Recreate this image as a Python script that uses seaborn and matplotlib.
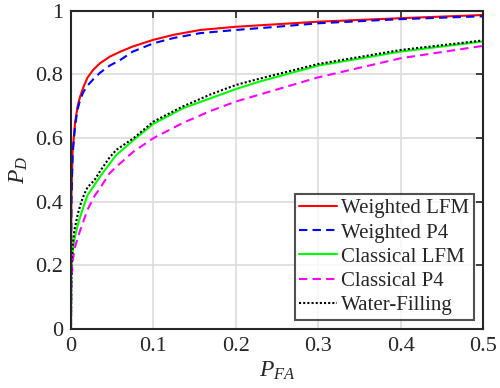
"""
Curvas ROC: P_D frente a P_FA para las distintas formas de onda
"""

import pandas as pd
import matplotlib
matplotlib.use('Agg')
import matplotlib.pyplot as plt
import seaborn as sns

# Valores
pfa_weighted = [0.0, 0.0005, 0.002, 0.005, 0.008, 0.011, 0.015, 0.02, 0.027, 0.035,
                0.047, 0.06, 0.075, 0.1, 0.125, 0.157, 0.2, 0.25, 0.3, 0.4, 0.5]
pd_weighted_lfm = [0.2, 0.42, 0.56, 0.65, 0.70, 0.73, 0.76, 0.79, 0.815, 0.835,
                   0.856, 0.872, 0.888, 0.909, 0.925, 0.94, 0.95, 0.958, 0.966, 0.977, 0.987]
pd_weighted_p4 = [0.18, 0.40, 0.55, 0.64, 0.69, 0.72, 0.745, 0.765, 0.785, 0.805,
                  0.828, 0.846, 0.872, 0.898, 0.915, 0.93, 0.94, 0.95, 0.961, 0.974, 0.983]

pfa_classical = [0.0, 0.0005, 0.002, 0.004, 0.0085, 0.0125, 0.0166, 0.02, 0.029, 0.035,
                 0.047, 0.055, 0.076, 0.1, 0.136, 0.169, 0.2, 0.229, 0.3, 0.4, 0.5]
pd_classical_lfm = [0.0, 0.2, 0.24, 0.28, 0.33, 0.364, 0.395, 0.42, 0.455, 0.478,
                    0.52, 0.547, 0.594, 0.645, 0.694, 0.725, 0.754, 0.778, 0.828, 0.872, 0.904]
pd_classical_p4 = [0.0, 0.15, 0.21, 0.25, 0.29, 0.32, 0.35, 0.375, 0.42, 0.442,
                   0.49, 0.51, 0.558, 0.60, 0.648, 0.685, 0.715, 0.737, 0.791, 0.851, 0.890]
pd_water_filling = [0.0, 0.2, 0.26, 0.31, 0.364, 0.40, 0.427, 0.445, 0.47, 0.495,
                    0.54, 0.563, 0.60, 0.652, 0.70, 0.737, 0.767, 0.787, 0.833, 0.877, 0.907]

x_ticks = [0, 0.1, 0.2, 0.3, 0.4, 0.5]
x_labels = ['0', '0.1', '0.2', '0.3', '0.4', '0.5']
y_ticks = [0, 0.2, 0.4, 0.6, 0.8, 1]
y_labels = ['0', '0.2', '0.4', '0.6', '0.8', '1']

sns.set_style('white')
plt.rcParams['font.family'] = ['Liberation Serif', 'DejaVu Serif']
plt.rcParams['mathtext.fontset'] = 'custom'
plt.rcParams['mathtext.it'] = 'Liberation Serif:italic'
plt.rcParams['mathtext.rm'] = 'Liberation Serif'

fig = plt.figure(figsize=(5, 3.88), dpi=100)
ax = fig.add_axes([0.142, 0.152, 0.824, 0.820])

series = [
    ('Weighted LFM', pfa_weighted, pd_weighted_lfm, 'red', '-'),
    ('Weighted P4', pfa_weighted, pd_weighted_p4, 'blue', (0, (4, 2.5))),
    ('Classical LFM', pfa_classical, pd_classical_lfm, '#00ff00', '-'),
    ('Classical P4', pfa_classical, pd_classical_p4, 'magenta', (0, (4, 2.5))),
    ('Water-Filling', pfa_classical, pd_water_filling, 'black', (0, (1, 1))),
]

for name, xs, ys, color, ls in series:
    df = pd.DataFrame({'x': xs, 'y': ys})
    sns.lineplot(data=df, x='x', y='y', ax=ax, color=color, linestyle=ls,
                 linewidth=1.5, label=name)

ax.set_xlim(0, 0.5)
ax.set_ylim(0, 1)
ax.set_xticks(x_ticks)
ax.set_xticklabels(x_labels)
ax.set_yticks(y_ticks)
ax.set_yticklabels(y_labels)
ax.grid(True, color='#dcdcdc', linewidth=1.2)
ax.set_axisbelow(True)
ax.tick_params(direction='in', length=5, width=1.2, top=True, right=True,
               labelsize=16, colors='#262626', labelcolor='#262626', pad=5.5)
for sp in ax.spines.values():
    sp.set_color('#262626')
    sp.set_linewidth(1.5)

ax.set_xlabel('$P_{FA}$', fontsize=17, color='#262626', labelpad=3)
ax.set_ylabel('$P_D$', fontsize=17, color='#262626', labelpad=4)

leg = ax.legend(loc='lower right', fontsize=15, frameon=True, fancybox=False,
                edgecolor='#262626', handlelength=1.8, handletextpad=0.2,
                borderpad=0.22, labelspacing=0.22, borderaxespad=0.45)
leg.get_frame().set_linewidth(1.5)

plt.savefig('out.png', dpi=100)
